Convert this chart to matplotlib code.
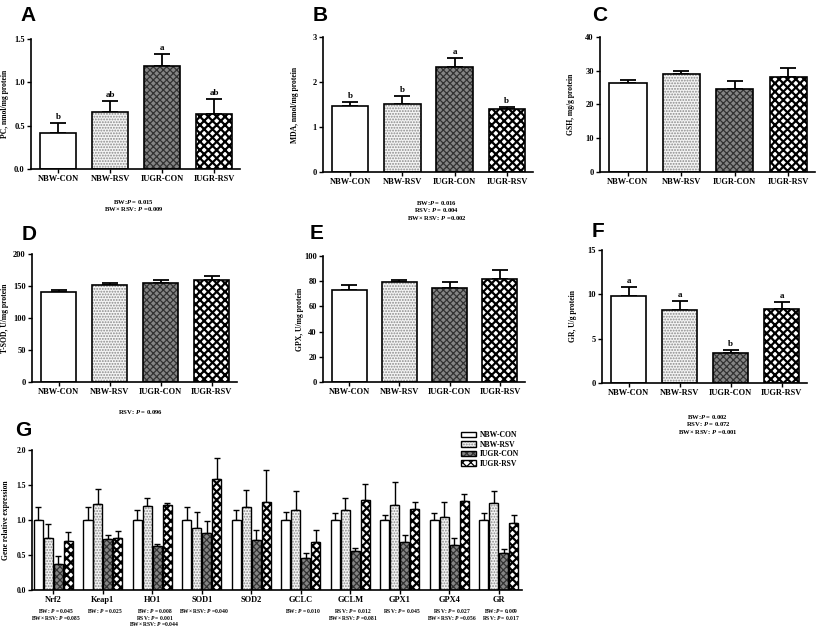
import numpy as np
import matplotlib
matplotlib.use("Agg")
import matplotlib.pyplot as plt
from matplotlib.patches import Patch
from matplotlib.legend_handler import HandlerTuple

plt.rcParams["font.family"] = "Liberation Serif"
plt.rcParams["font.weight"] = "bold"
plt.rcParams["mathtext.fontset"] = "custom"
plt.rcParams["mathtext.rm"] = "Liberation Serif:bold"
plt.rcParams["mathtext.it"] = "Liberation Serif:italic:bold"
plt.rcParams["mathtext.bf"] = "Liberation Serif:bold"
plt.rcParams["hatch.linewidth"] = 0.9
plt.rcParams["axes.spines.top"] = False
plt.rcParams["axes.spines.right"] = False

# ---- data ----
groups = ["NBW-CON", "NBW-RSV", "IUGR-CON", "IUGR-RSV"]

pc_mean = [0.41, 0.66, 1.19, 0.64]
pc_sem = [0.12, 0.13, 0.14, 0.17]
pc_letters = ["b", "ab", "a", "ab"]

mda_mean = [1.47, 1.51, 2.34, 1.40]
mda_sem = [0.09, 0.18, 0.19, 0.05]
mda_letters = ["b", "b", "a", "b"]

gsh_mean = [26.3, 29.0, 24.6, 28.0]
gsh_sem = [1.1, 0.8, 2.5, 2.8]

tsod_mean = [140, 152, 154, 159]
tsod_sem = [4, 3, 5, 6]

gpx_mean = [73, 79, 75, 82]
gpx_sem = [4, 2, 4, 7]

gr_mean = [9.8, 8.2, 3.4, 8.3]
gr_sem = [1.0, 1.1, 0.35, 0.85]
gr_letters = ["a", "a", "b", "a"]

genes = ["Nrf2", "Keap1", "HO1", "SOD1", "SOD2", "GCLC", "GCLM", "GPX1", "GPX4", "GR"]
g_nbw_con = [1.00, 1.00, 1.00, 1.00, 1.00, 1.00, 1.00, 1.00, 1.00, 1.00]
g_nbw_con_sem = [0.19, 0.19, 0.15, 0.18, 0.15, 0.12, 0.10, 0.07, 0.10, 0.10]
g_nbw_rsv = [0.75, 1.23, 1.20, 0.89, 1.18, 1.14, 1.14, 1.22, 1.05, 1.24]
g_nbw_rsv_sem = [0.20, 0.22, 0.11, 0.22, 0.25, 0.27, 0.17, 0.32, 0.21, 0.17]
g_iugr_con = [0.37, 0.73, 0.63, 0.81, 0.72, 0.46, 0.56, 0.69, 0.64, 0.53]
g_iugr_con_sem = [0.11, 0.06, 0.03, 0.17, 0.14, 0.07, 0.04, 0.09, 0.10, 0.05]
g_iugr_rsv = [0.70, 0.75, 1.21, 1.59, 1.26, 0.69, 1.29, 1.16, 1.27, 0.96]
g_iugr_rsv_sem = [0.13, 0.09, 0.04, 0.29, 0.46, 0.17, 0.22, 0.10, 0.10, 0.11]

pvals_A = ["BW:$\\mathit{P}$ = 0.015", "BW× RSV: $\\mathit{P}$ =0.009"]
pvals_B = ["BW:$\\mathit{P}$ = 0.016", "RSV: $\\mathit{P}$ = 0.004", "BW× RSV: $\\mathit{P}$ =0.002"]
pvals_D = ["RSV: $\\mathit{P}$ = 0.096"]
pvals_F = ["BW:$\\mathit{P}$ = 0.002", "RSV: $\\mathit{P}$ = 0.072", "BW× RSV: $\\mathit{P}$ =0.001"]
pvals_G = [
    ["BW: $\\mathit{P}$ = 0.045", "BW× RSV: $\\mathit{P}$ =0.085"],
    ["BW: $\\mathit{P}$ = 0.025"],
    ["BW: $\\mathit{P}$ = 0.008", "RSV: $\\mathit{P}$ = 0.001", "BW× RSV: $\\mathit{P}$ =0.044"],
    ["BW× RSV: $\\mathit{P}$ =0.040"],
    [],
    ["BW: $\\mathit{P}$ = 0.010"],
    ["RSV: $\\mathit{P}$ = 0.012", "BW× RSV: $\\mathit{P}$ =0.081"],
    ["RSV: $\\mathit{P}$ = 0.045"],
    ["RSV: $\\mathit{P}$ = 0.027", "BW× RSV: $\\mathit{P}$ =0.056"],
    ["BW:$\\mathit{P}$ = 0.009", "RSV: $\\mathit{P}$ = 0.017"],
]

# fill style per group: (facecolor, hatch, hatch colour, hatch linewidth)
STYLES = [
    ("white", "", "black", 0.9),
    ("#f4f4f4", "......", "#8a8a8a", 0.9),
    ("#858585", "xxxxx", "#333333", 0.9),
    ("white", "xxxx", "black", 1.6),
]

W, H = 817, 630
fig = plt.figure(figsize=(W / 100, H / 100), dpi=100)


def px_axes(l, r, t, b):
    return fig.add_axes([l / W, 1 - b / H, (r - l) / W, (b - t) / H])


def draw_bars(ax, x, heights, width, k, lw=1.2):
    face, hatch, hcol, hlw = STYLES[k]
    with plt.rc_context({"hatch.linewidth": hlw}):
        ax.bar(x, heights, width, color=face, edgecolor=hcol, hatch=hatch,
               linewidth=0, zorder=2)
    ax.bar(x, heights, width, fill=False, edgecolor="black", linewidth=lw, zorder=3)


def style_axes(ax, yticks, ylabels, label, label_x, tick_fs=6):
    ax.spines["left"].set_linewidth(1.2)
    ax.spines["bottom"].set_linewidth(1.2)
    ax.set_ylim(yticks[0], yticks[-1])
    ax.set_yticks(yticks)
    ax.set_yticklabels(ylabels, fontsize=tick_fs)
    ax.tick_params(axis="both", length=3, width=1, pad=1.5, direction="out")
    ax.set_ylabel(label, fontsize=5.5, fontweight="bold")
    ax.yaxis.set_label_coords(label_x, 0.5)


def simple_panel(rect, mean, sem, yticks, ylabels, label, label_x, letters=None):
    ax = px_axes(*rect)
    x = np.arange(len(groups))
    for k in range(len(groups)):
        draw_bars(ax, [x[k]], [mean[k]], 0.7, k)
    ax.errorbar(x, mean, yerr=[np.zeros(len(sem)), sem], fmt="none",
                ecolor="black", elinewidth=1.3, capsize=6, capthick=1.3, zorder=1)
    span = yticks[-1] - yticks[0]
    if letters:
        for k in range(len(groups)):
            ax.text(x[k], mean[k] + sem[k] + span * 0.015, letters[k],
                    ha="center", va="bottom", fontsize=6.5, fontweight="bold")
    ax.set_xlim(-0.52, 3.5)
    ax.set_xticks(x)
    ax.set_xticklabels(groups, fontsize=6)
    style_axes(ax, yticks, ylabels, label, label_x)
    return ax


simple_panel((31, 240, 39, 169), pc_mean, pc_sem, [0, 0.5, 1.0, 1.5],
             ["0.0", "0.5", "1.0", "1.5"], "PC, nmol/mg protein", -0.105, pc_letters)
simple_panel((323, 533, 37, 172), mda_mean, mda_sem, [0, 1, 2, 3],
             ["0", "1", "2", "3"], "MDA, nmol/mg protein", -0.115, mda_letters)
simple_panel((600, 815, 37, 172), gsh_mean, gsh_sem, [0, 10, 20, 30, 40],
             ["0", "10", "20", "30", "40"], "GSH, mg/g protein", -0.115)
simple_panel((32, 237, 254, 382), tsod_mean, tsod_sem, [0, 50, 100, 150, 200],
             ["0", "50", "100", "150", "200"], "T-SOD, U/mg protein", -0.11)
simple_panel((323, 525, 256, 382), gpx_mean, gpx_sem, [0, 20, 40, 60, 80, 100],
             ["0", "20", "40", "60", "80", "100"], "GPX, U/mg protein", -0.095)
simple_panel((602, 807, 250, 383), gr_mean, gr_sem, [0, 5, 10, 15],
             ["0", "5", "10", "15"], "GR, U/g protein", -0.12, gr_letters)

# ---- panel G ----
axg = px_axes(32, 522, 450, 590)
xg = np.arange(len(genes))
g_means = [g_nbw_con, g_nbw_rsv, g_iugr_con, g_iugr_rsv]
g_sems = [g_nbw_con_sem, g_nbw_rsv_sem, g_iugr_con_sem, g_iugr_rsv_sem]
offsets = [-0.3, -0.1, 0.1, 0.3]
handles = []
for k in range(4):
    draw_bars(axg, xg + offsets[k], g_means[k], 0.185, k, lw=1.0)
    axg.errorbar(xg + offsets[k], g_means[k],
                 yerr=[np.zeros(len(genes)), g_sems[k]], fmt="none",
                 ecolor="black", elinewidth=1.0, capsize=2, capthick=1.0, zorder=1)
    face, hatch, hcol, hlw = STYLES[k]
    with plt.rc_context({"hatch.linewidth": hlw}):
        fill_h = Patch(facecolor=face, edgecolor=hcol, hatch=hatch, linewidth=0)
    handles.append((fill_h, Patch(fill=False, edgecolor="black", linewidth=1.0)))
axg.set_xlim(-0.43, 9.47)
axg.set_xticks(xg)
axg.set_xticklabels(genes, fontsize=6)
style_axes(axg, [0, 0.5, 1.0, 1.5, 2.0], ["0.0", "0.5", "1.0", "1.5", "2.0"],
           "Gene relative expression", -0.045, tick_fs=5.5)
axg.legend(handles, groups, handler_map={tuple: HandlerTuple(ndivide=1, pad=0)},
           loc="upper left", bbox_to_anchor=(461 / W, 1 - 431 / H),
           bbox_transform=fig.transFigure, frameon=False, fontsize=5.5,
           handlelength=1.9, handleheight=0.75, labelspacing=0.2,
           handletextpad=0.6, borderaxespad=0, borderpad=0)

# P-value notes under panel G
for i, lines in enumerate(pvals_G):
    xf = (53 + 49.5 * (i + 0.05)) / W
    for j, s in enumerate(lines):
        fig.text(xf, 1 - (611 + 6.5 * j) / H, s, ha="center", va="center", fontsize=4.0)

# P-value notes under panels
for lines, xc, y0, dy in [(pvals_A, 134, 202, 7.5), (pvals_B, 437, 203, 7.5),
                          (pvals_D, 140, 412, 7.5), (pvals_F, 708, 417, 7.5)]:
    for j, s in enumerate(lines):
        fig.text(xc / W, 1 - (y0 + dy * j) / H, s, ha="center", va="center", fontsize=4.8)

# panel letters
for letter, xp, yp in [("A", 20, 6), ("B", 313, 6), ("C", 592, 6),
                       ("D", 22, 225), ("E", 310, 224), ("F", 592, 222), ("G", 15, 421)]:
    fig.text(xp / W, 1 - yp / H, letter, ha="left", va="top", fontsize=15,
             fontweight="bold", family="Liberation Sans")

fig.savefig("out.png", dpi=100)
